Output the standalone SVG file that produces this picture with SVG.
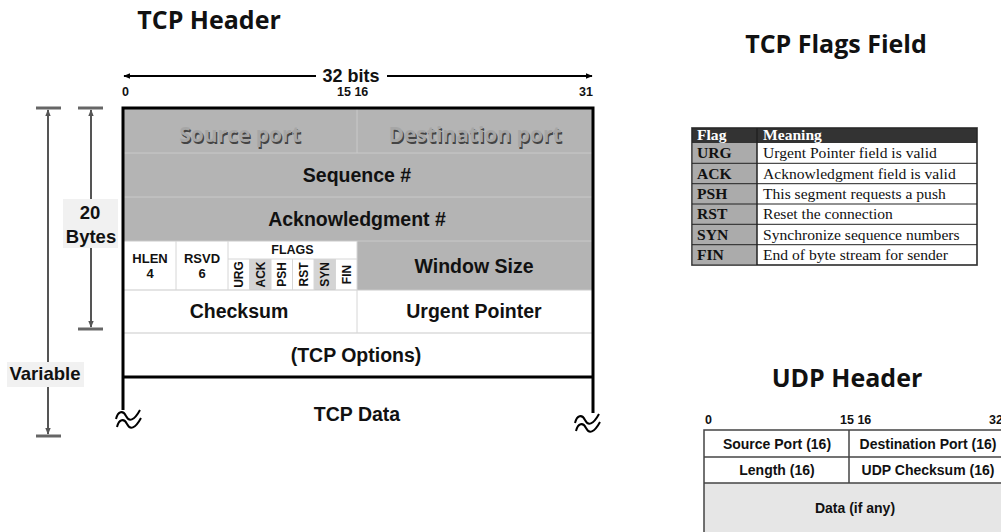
<svg xmlns="http://www.w3.org/2000/svg" width="1001" height="532" viewBox="0 0 1001 532">
  <defs>
    <style>
      .lbl{font-family:"Liberation Sans",Arial,sans-serif;font-weight:bold;fill:#111;text-anchor:middle}
      .big{font-size:19.5px}
      .mid{font-size:13px}
      .num{font-family:"Liberation Sans",Arial,sans-serif;font-weight:bold;font-size:12.5px;fill:#111}
      .title{font-family:"Open Sans",sans-serif;font-weight:bold;font-size:25px;fill:#111;text-anchor:middle}
      .emb{font-family:"Open Sans",sans-serif;font-weight:bold;font-size:21px;text-anchor:middle}
      .embS{fill:#444}
      .embF{fill:#a6a6a6}
      .gray{fill:#b4b4b4}
      .frame{stroke:#000;stroke-width:3;fill:none}
      .thin{stroke:#c9c9c9;stroke-width:1}
      .thinW{stroke:#d6d6d6;stroke-width:1}
      .dim{stroke:#555;stroke-width:2;fill:none}
      .tick{stroke:#666;stroke-width:3}
      .sq{stroke:#000;stroke-width:2;fill:none}
      .ser{font-family:"Liberation Serif","Times New Roman",serif;font-size:15.6px}
      .serB{font-family:"Liberation Serif","Times New Roman",serif;font-size:15.6px;font-weight:bold}
      .udp{stroke:#444;stroke-width:1.5;fill:none}
      .udpT{font-size:14px}
    </style>
    <marker id="arrBlk" viewBox="0 0 10 10" refX="9" refY="5" markerWidth="7" markerHeight="7" orient="auto-start-reverse" markerUnits="userSpaceOnUse">
      <path d="M0,1 L10,5 L0,9 Z" fill="#000"/>
    </marker>
    <marker id="arrGry" viewBox="0 0 10 10" refX="9" refY="5" markerWidth="7" markerHeight="7" orient="auto-start-reverse" markerUnits="userSpaceOnUse">
      <path d="M0,1 L10,5 L0,9 Z" fill="#555"/>
    </marker>
    <path id="tilde" d="M0,3 C2,-5 7,-6 10,0 S18,5 24,-6"/>
  </defs>

  <rect width="1001" height="532" fill="#fff"/>

  <!-- titles -->
  <text class="title" x="209" y="29">TCP Header</text>
  <text class="title" x="836" y="53">TCP Flags Field</text>
  <text class="title" x="847" y="387" font-size="26.5">UDP Header</text>

  <!-- bit scale -->
  <g id="bit-scale">
    <line x1="316" y1="76" x2="124" y2="76" stroke="#000" stroke-width="2" marker-end="url(#arrBlk)"/>
    <line x1="387" y1="76" x2="592" y2="76" stroke="#000" stroke-width="2" marker-end="url(#arrBlk)"/>
    <text class="lbl" x="351" y="82" font-size="18">32 bits</text>
    <text class="num" x="122" y="96">0</text>
    <text class="num" x="337" y="96">15 16</text>
    <text class="num" x="593" y="96" text-anchor="end">31</text>
  </g>

  <!-- TCP header fields -->
  <g id="tcp-header">
    <rect class="gray" x="123" y="108" width="470" height="133"/>
    <rect class="gray" x="357" y="241" width="236" height="49"/>
    <rect x="249.5" y="259" width="21.5" height="31" fill="#d4d4d4"/>
    <rect x="314" y="259" width="21.5" height="31" fill="#d4d4d4"/>
    <line class="thin" x1="123" y1="153" x2="593" y2="153"/>
    <line class="thin" x1="123" y1="197" x2="593" y2="197"/>
    <line class="thin" x1="123" y1="241" x2="593" y2="241"/>
    <line class="thin" x1="357" y1="108" x2="357" y2="153"/>
    <line class="thin" x1="123" y1="290" x2="593" y2="290"/>
    <line class="thin" x1="123" y1="333" x2="593" y2="333"/>
    <line class="thinW" x1="357" y1="290" x2="357" y2="333"/>
    <line class="thinW" x1="176" y1="241" x2="176" y2="290"/>
    <line class="thinW" x1="228" y1="241" x2="228" y2="290"/>
    <line class="thinW" x1="228" y1="259" x2="357" y2="259"/>
    <line class="thinW" x1="249.5" y1="259" x2="249.5" y2="290"/>
    <line class="thinW" x1="271" y1="259" x2="271" y2="290"/>
    <line class="thinW" x1="292.5" y1="259" x2="292.5" y2="290"/>
    <line class="thinW" x1="314" y1="259" x2="314" y2="290"/>
    <line class="thinW" x1="335.5" y1="259" x2="335.5" y2="290"/>
    <line class="thinW" x1="357" y1="241" x2="357" y2="290"/>

    <g id="source-port">
      <text class="emb embS" x="241.2" y="143.7">Source port</text>
      <text class="emb embF" x="240" y="142">Source port</text>
    </g>
    <g id="destination-port">
      <text class="emb embS" x="476.2" y="143.7">Destination port</text>
      <text class="emb embF" x="475" y="142">Destination port</text>
    </g>
    <text id="sequence" class="lbl big" x="357" y="182">Sequence #</text>
    <text id="acknowledgment" class="lbl big" x="357" y="226">Acknowledgment #</text>
    <g id="hlen">
      <text class="lbl mid" x="150" y="263">HLEN</text>
      <text class="lbl mid" x="150" y="278">4</text>
    </g>
    <g id="rsvd">
      <text class="lbl mid" x="202" y="263">RSVD</text>
      <text class="lbl mid" x="202" y="278">6</text>
    </g>
    <g id="flags">
      <text class="lbl" font-size="12.5" x="292.5" y="254">FLAGS</text>
      <g class="lbl" font-size="12">
        <text transform="translate(238.75,274.5) rotate(-90)" y="4.3">URG</text>
        <text transform="translate(260.25,274.5) rotate(-90)" y="4.3">ACK</text>
        <text transform="translate(281.75,274.5) rotate(-90)" y="4.3">PSH</text>
        <text transform="translate(303.25,274.5) rotate(-90)" y="4.3">RST</text>
        <text transform="translate(324.75,274.5) rotate(-90)" y="4.3">SYN</text>
        <text transform="translate(346.25,274.5) rotate(-90)" y="4.3">FIN</text>
      </g>
    </g>
    <text id="window-size" class="lbl big" x="474" y="273">Window Size</text>
    <text id="checksum" class="lbl big" x="239" y="318">Checksum</text>
    <text id="urgent-pointer" class="lbl big" x="474" y="318">Urgent Pointer</text>
    <text id="tcp-options" class="lbl big" x="356" y="362">(TCP Options)</text>
    <text id="tcp-data" class="lbl big" x="357" y="421">TCP Data</text>

    <!-- outer frame, open at the bottom -->
    <path class="frame" d="M123,410 V108 H593 V413"/>
    <line class="frame" x1="123" y1="377" x2="593" y2="377"/>
    <!-- break marks -->
    <use href="#tilde" class="sq" transform="translate(116,416)"/>
    <use href="#tilde" class="sq" transform="translate(117,424)"/>
    <use href="#tilde" class="sq" transform="translate(575,420)"/>
    <use href="#tilde" class="sq" transform="translate(576,428)"/>
  </g>

  <!-- size dimensions on the left -->
  <g id="dim-variable">
    <line class="tick" x1="36" y1="108" x2="61" y2="108"/>
    <line class="tick" x1="36" y1="436" x2="61" y2="436"/>
    <line class="dim" x1="48" y1="272" x2="48" y2="110" marker-end="url(#arrGry)"/>
    <line class="dim" x1="48" y1="272" x2="48" y2="434" marker-end="url(#arrGry)"/>
    <rect x="7" y="362" width="77" height="25" fill="#f1f1f1"/>
    <text class="lbl" font-size="18.5" x="45" y="380">Variable</text>
  </g>
  <g id="dim-20-bytes">
    <line class="tick" x1="78" y1="108" x2="103" y2="108"/>
    <line class="tick" x1="78" y1="329" x2="103" y2="329"/>
    <line class="dim" x1="91" y1="220" x2="91" y2="110" marker-end="url(#arrGry)"/>
    <line class="dim" x1="91" y1="220" x2="91" y2="327" marker-end="url(#arrGry)"/>
    <rect x="63" y="199" width="55" height="49" fill="#f1f1f1"/>
    <text class="lbl" font-size="18.5" x="90" y="219">20</text>
    <text class="lbl" font-size="18.5" x="91" y="243">Bytes</text>
  </g>

  <!-- TCP flags table -->
  <g id="flags-table">
    <rect x="692" y="128" width="285" height="137" fill="#fff" stroke="#888" stroke-width="2"/>
    <rect x="692" y="128" width="285" height="15" fill="#333"/>
    <rect x="692" y="143" width="65" height="122" fill="#ababab"/>
    <g stroke="#222" stroke-width="1">
      <line x1="692" y1="163.3" x2="977" y2="163.3"/>
      <line x1="692" y1="183.7" x2="977" y2="183.7"/>
      <line x1="692" y1="204" x2="977" y2="204"/>
      <line x1="692" y1="224.3" x2="977" y2="224.3"/>
      <line x1="692" y1="244.7" x2="977" y2="244.7"/>
      <line x1="757" y1="128" x2="757" y2="265" stroke-width="1.5"/>
      <rect x="692" y="128" width="285" height="137" fill="none"/>
    </g>
    <text class="serB" x="697" y="140" fill="#fff">Flag</text>
    <text class="serB" x="763" y="140" fill="#fff">Meaning</text>
    <g class="serB" fill="#111">
      <text x="697" y="158">URG</text>
      <text x="697" y="178.5">ACK</text>
      <text x="697" y="199">PSH</text>
      <text x="697" y="219">RST</text>
      <text x="697" y="239.5">SYN</text>
      <text x="697" y="260">FIN</text>
    </g>
    <g class="ser" fill="#111">
      <text x="763" y="158">Urgent Pointer field is valid</text>
      <text x="763" y="178.5">Acknowledgment field is valid</text>
      <text x="763" y="199">This segment requests a push</text>
      <text x="763" y="219">Reset the connection</text>
      <text x="763" y="239.5">Synchronize sequence numbers</text>
      <text x="763" y="260">End of byte stream for sender</text>
    </g>
  </g>

  <!-- UDP header -->
  <g id="udp-header">
    <text class="num" x="705" y="424" font-size="11.5">0</text>
    <text class="num" x="840" y="424" font-size="11.5">15 16</text>
    <text class="num" x="989" y="424" font-size="11.5">32</text>
    <rect x="704" y="483" width="304" height="52" fill="#e6e6e6"/>
    <rect class="udp" x="704" y="430" width="304" height="110"/>
    <line class="udp" x1="704" y1="457" x2="1008" y2="457"/>
    <line class="udp" x1="704" y1="483" x2="1008" y2="483"/>
    <line class="udp" x1="849" y1="430" x2="849" y2="483" stroke-width="2"/>
    <text id="udp-src" class="lbl udpT" x="777" y="449">Source Port (16)</text>
    <text id="udp-dst" class="lbl udpT" x="928" y="449">Destination Port (16)</text>
    <text id="udp-len" class="lbl udpT" x="777" y="475">Length (16)</text>
    <text id="udp-chk" class="lbl udpT" x="928" y="475">UDP Checksum (16)</text>
    <text id="udp-data" class="lbl udpT" x="855" y="513">Data (if any)</text>
  </g>
</svg>
